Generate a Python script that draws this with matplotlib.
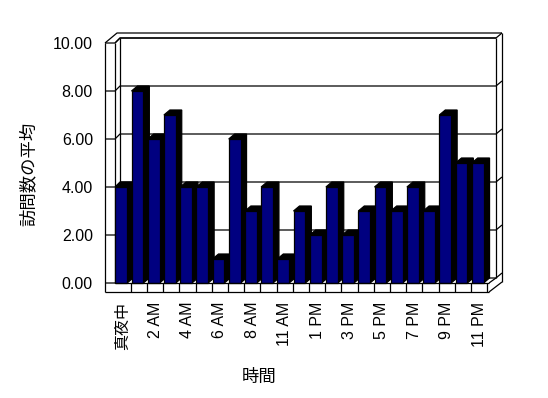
import matplotlib
matplotlib.use("Agg")
import matplotlib.pyplot as plt
from matplotlib.patches import Polygon

plt.rcParams['font.family'] = ['Liberation Sans', 'Noto Sans CJK JP', 'DejaVu Sans']

categories = ['真夜中', '1 AM', '2 AM', '3 AM', '4 AM', '5 AM', '6 AM', '7 AM', '8 AM',
              '9 AM', '11 AM', '正午', '1 PM', '2 PM', '3 PM', '4 PM', '5 PM', '6 PM',
              '7 PM', '8 PM', '9 PM', '10 PM', '11 PM']
values = [4, 8, 6, 7, 4, 4, 1, 6, 3, 4, 1, 3, 2, 4, 2, 3, 4, 3, 4, 3, 7, 5, 5]
yticks = [0, 2, 4, 6, 8, 10]
ytick_labels = ['0.00', '2.00', '4.00', '6.00', '8.00', '10.00']
xlabel = '時間'
ylabel = '訪問数の平均'

W, H = 548, 398
fig = plt.figure(figsize=(W / 100, H / 100), dpi=100)

# pixel geometry of the plot region
XL, CW = 114.5, 16.2      # left edge of category 0, category width (px)
Y0, PU = 283.0, 24.0      # y pixel of value 0, pixels per unit
n = len(categories)
ax = fig.add_axes([XL / W, (H - Y0) / H, n * CW / W, 10 * PU / H])
ax.set_xlim(-0.5, n - 0.5)
ax.set_ylim(0, 10)
ax.patch.set_alpha(0)
for s in ax.spines.values():
    s.set_visible(False)

def px(x):
    return (x - XL) / CW - 0.5

def py(y):
    return (Y0 - y) / PU

lw = 0.9
k = dict(color='black', lw=lw, clip_on=False, solid_capstyle='butt')

# back wall gridlines and left wall ticks
for v in yticks:
    yb = v + 5 / PU
    ax.plot([px(105), px(115), px(120), px(496), px(502)],
            [v, v, yb, yb, yb + 5 / PU], zorder=1, **k)

# walls frame
ax.plot([px(105), px(105)], [py(43), py(292)], zorder=1, **k)
ax.plot([px(115), px(115)], [py(43), py(283)], zorder=1, **k)
ax.plot([px(120), px(120)], [py(38), py(278)], zorder=1, **k)
ax.plot([px(105), px(117), px(502)], [py(43), py(33), py(33)], zorder=1, **k)
ax.plot([px(115), px(120), px(496)], [py(43), py(38), py(38)], zorder=1, **k)
ax.plot([px(496), px(496)], [py(38), py(278)], zorder=1, **k)
ax.plot([px(502), px(502)], [py(33), py(282)], zorder=1, **k)

# bars with 3D depth
bw = 0.73
off = -0.45
ddx = 6 / CW
ddy = 5 / PU
bars = ax.bar([i + off for i in range(n)], values, width=bw, align='edge',
              color='#000080', edgecolor='black', linewidth=lw)
for i, (b, v) in enumerate(zip(bars, values)):
    x0 = i + off
    x1 = x0 + bw
    poly = Polygon([(x0, v), (x0 + ddx, v + ddy), (x1 + ddx, v + ddy),
                    (x1 + ddx, ddy), (x1, 0), (x1, v)], closed=True,
                   facecolor='black', edgecolor='black', lw=lw,
                   zorder=2 + 2 * i, clip_on=False)
    ax.add_patch(poly)
    b.set_zorder(3 + 2 * i)
    b.set_clip_on(False)

# floor front strip
zf = 2 + 2 * n + 5
ax.plot([px(105), px(489)], [py(292), py(292)], zorder=zf, **k)
ax.plot([px(115), px(489)], [py(283), py(283)], zorder=zf, **k)
ax.plot([px(489), px(502)], [py(292), py(282)], zorder=zf, **k)
ax.plot([px(489), px(496)], [py(283), py(278)], zorder=zf, **k)
for j in range(1, n + 1):
    xb = j - 0.5
    ax.plot([xb, xb], [py(283), py(292)], zorder=zf, **k)

# ticks and labels
ax.set_yticks(yticks)
ax.set_yticklabels(ytick_labels, fontsize=11.5)
ax.tick_params(axis='y', length=0, pad=15.5)
ax.set_xticks(list(range(0, n, 2)))
ax.set_xticklabels(categories[::2], rotation=90, fontsize=11.5)
ax.tick_params(axis='x', length=0, pad=13.5)

fig.text(259 / W, 1 - 377 / H, xlabel, ha='center', va='center', fontsize=12.5)
fig.text(28 / W, 1 - 174 / H, ylabel, ha='center', va='center', rotation=90,
         fontsize=12.5)

fig.savefig('out.png', dpi=100)
